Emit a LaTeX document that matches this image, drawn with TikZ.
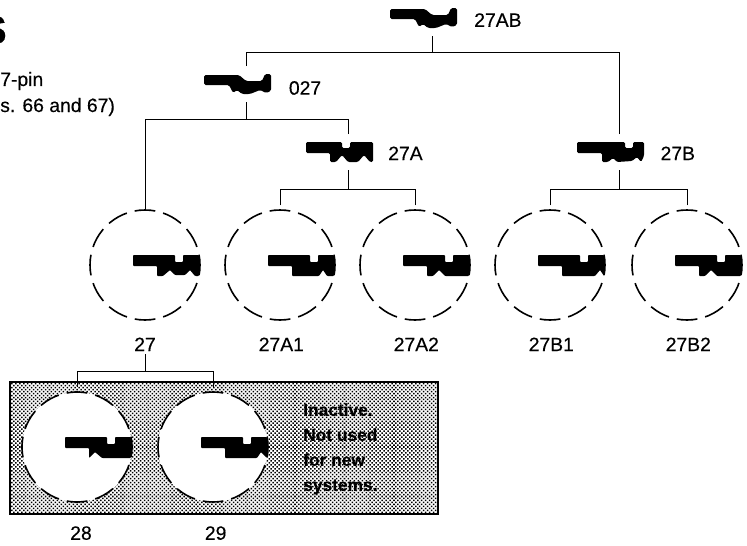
\documentclass[tikz,border=0pt]{standalone}
\usepackage{fontspec}
\setmainfont{Liberation Sans}[FakeBold=0.3]
\usetikzlibrary{positioning,patterns.meta}
\tikzset{
	every node/.style = {font=\fontsize{14.5}{16}\selectfont, inner sep = 0},
	line width=1.1pt,
	keybox/.style={minimum width=63pt, minimum height=15pt, outer ysep=6pt},
	slot/.style={circle, draw, line width=1.2pt, minimum size=82.5pt, outer sep=0, fill=white, dash pattern=on 15.5pt off 6.1pt, dash phase=7.75pt},
	gap/.style={shorten <=3.5pt},
	notetext/.style={font=\fontsize{13}{18.75}\selectfont\bfseries, align=left},
	pics/keytop/.style={code={
		\fill[rounded corners=1.2pt] (-42,-9) -- (-7,-9) -- (0,-3) -- (16,-3) -- (19,-10) -- (25,-10) -- (25,7) -- (20,9) -- (14,6) -- (4,10) -- (-4,10) -- (-9,6) -- (-13,9) -- (-17,1) -- (-42,1) -- cycle;
	}},
	pics/keymid/.style={code={
		\fill[rounded corners=1pt] (-42,-10) -- (-6,-10) -- (-6,-4) -- (2,-4) -- (2,-10) -- (25,-10) -- (25,10) -- (22,10) -- (16,3) -- (10,10) -- (0,10) -- (-6,3) -- (-12,10) -- (-18,10) -- (-18,1) -- (-42,1) -- cycle;
	}},
	pics/keyside/.style={code={
		\fill[rounded corners=1pt] (-42,-10) -- (6,-10) -- (6,-4) -- (14,-4) -- (14,-10) -- (25,-10) -- (25,4) -- (22,10) -- (18,5) -- (13,9) -- (-2,10) -- (-6,6) -- (-11,10) -- (-17,10) -- (-17,1) -- (-42,1) -- cycle;
	}},
	pics/keyslot/.style={code={
		\fill[rounded corners=0.6pt] (-12,-10) -- (30,-10) -- (30,-3) -- (38,-3) -- (38,-10) -- (54,-10) -- (54,11) #1 -- (12,11) -- (12,1) -- (-12,1) -- cycle;
	}}
}
\begin{document}
\begin{tikzpicture}[x=0.75pt,y=-0.75pt]
		\useasboundingbox (0,0) rectangle (747,546);
		\clip (0,0) rectangle (747,546);

		\node(title)[anchor=east, font=\fontsize{30}{30}\selectfont\bfseries] at (7,30) {S};
		\node(notea)[anchor=west] at (0,81) {7-pin};
		\node(noteb)[anchor=west] at (0,107) {s. 66 and 67)};

		\node(panel)[draw, line width=1.4pt, pattern={Dots[distance=2.1pt, radius=0.8pt, angle=45]}, minimum width=321pt, minimum height=99pt] at (224,448) {};

		\node(k27AB)[keybox] at (432,18) {};
		\node(k027)[keybox] at (246,84) {};
		\node(k27A)[keybox] at (348,152) {};
		\node(k27B)[keybox] at (619,152) {};
		\node(l27AB)[right=0 of k27AB.center, xshift=31.5pt, yshift=-1.5pt] {27AB};
		\node(l027)[right=0 of k027.center, xshift=32pt, yshift=-3pt] {027};
		\node(l27A)[right=0 of k27A.center, xshift=30pt, yshift=-1pt] {27A};
		\node(l27B)[right=0 of k27B.center, xshift=31pt, yshift=-1pt] {27B};

		\node(c27)[slot] at (145,265) {};
		\node(c27A1)[slot] at (280,265) {};
		\node(c27A2)[slot] at (415,265) {};
		\node(c27B1)[slot] at (550,265) {};
		\node(c27B2)[slot] at (687,265) {};
		\node(c28)[slot] at (77,447) {};
		\node(c29)[slot] at (213,447) {};

		\node(l27)[below=13pt of c27] {27};
		\node(l27A1)[below=13pt of c27A1, xshift=1pt] {27A1};
		\node(l27A2)[below=13pt of c27A2, xshift=1pt] {27A2};
		\node(l27B1)[below=13pt of c27B1, xshift=1pt] {27B1};
		\node(l27B2)[below=13pt of c27B2, xshift=1pt] {27B2};
		\node(l28)[below=18pt of c28, xshift=3pt] {28};
		\node(l29)[below=18pt of c29, xshift=2pt] {29};
		\node(inactive)[notetext, anchor=north west] at (303,403) {Inactive.\\Not used\\for new\\systems.};

		\pic at (k27AB) {keytop};
		\pic at (k027) {keytop};
		\pic at (k27A) {keymid};
		\pic at (k27B) {keyside};
		\pic at (c27) {keyslot={-- (50,11) -- (45,5) -- (40,10) -- (30,10) -- (25,5) -- (18,11)}};
		\pic at (c27A1) {keyslot={-- (47,11) -- (43,5) -- (39,11)}};
		\pic at (c27A2) {keyslot={-- (30,11) -- (24,5) -- (18,11)}};
		\pic at (c27B1) {keyslot={-- (50,5) -- (45,11)}};
		\pic at (c27B2) {keyslot={-- (30,11) -- (24,5) -- (18,11)}};
		\pic at (c28) {keyslot={-- (25,11) -- (18,5) -- (12,11)}};
		\pic at (c29) {keyslot={-- (48,5) -- (44,11)}};

		\coordinate (b27AB) at (432,52);
		\coordinate (b027) at (246,119);
		\coordinate (b27A) at (348,189);
		\coordinate (b27B) at (619,189);
		\coordinate (b27) at (145,371);

		\draw (k27AB.south) -- (b27AB);
		\draw (k027.north) |- (b27AB);
		\draw (k27B.north) |- (b27AB);
		\draw (k027.south) -- (b027);
		\draw (c27.north) |- (b027);
		\draw (k27A.north) |- (b027);
		\draw (k27A.south) -- (b27A);
		\draw[gap] (c27A1.north) |- (b27A);
		\draw[gap] (c27A2.north) |- (b27A);
		\draw (k27B.south) -- (b27B);
		\draw[gap] (c27B1.north) |- (b27B);
		\draw[gap] (c27B2.north) |- (b27B);
		\draw[shorten <=2pt] (l27.south) -- (b27);
		\draw[gap] (c28.north) |- (b27);
		\draw[gap] (c29.north) |- (b27);
\end{tikzpicture}
\end{document}
